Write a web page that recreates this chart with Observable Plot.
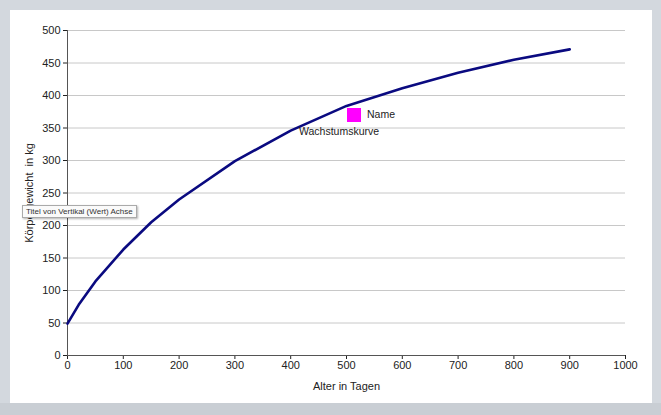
<!DOCTYPE html>
<html><head><meta charset="utf-8">
<script src="https://cdn.jsdelivr.net/npm/d3@7"></script>
<script src="https://cdn.jsdelivr.net/npm/@observablehq/plot@0.6"></script>
<style>
html,body{margin:0;padding:0;}
body{width:661px;height:415px;background:#d3d8de;position:relative;overflow:hidden;font-family:"Liberation Sans",Arial,sans-serif;}
#panel{position:absolute;left:10px;top:10px;width:642px;height:393px;background:#fff;}
#bottom{position:absolute;left:0;top:403px;width:661px;height:12px;background:#c9ced4;}
.lab{position:absolute;font-size:10.5px;color:#222;white-space:nowrap;}
#tip{position:absolute;left:22px;top:205px;font-size:8px;color:#333;background:#fafafa;border:1px solid #aaa;padding:1px 3px;box-shadow:1px 1px 2px rgba(0,0,0,0.3);white-space:nowrap;}
#sw{position:absolute;left:347px;top:108px;width:14px;height:14px;background:#ff00ff;}
</style></head>
<body>
<div id="bottom"></div>
<div id="panel"></div>
<div id="sw"></div>
<div class="lab" style="left:367px;top:108px;">Name</div>
<div class="lab" style="left:299px;top:125px;">Wachstumskurve</div>
<div id="tip">Titel von Vertikal (Wert) Achse</div>
<script>
const ages = [0, 20, 50, 100, 150, 200, 300, 400, 500, 600, 700, 800, 900];
const weights = [49, 78, 114, 163, 205, 240, 299, 346, 384, 411, 435, 455, 471];
const xTicks = [0,100,200,300,400,500,600,700,800,900,1000];
const yTicks = [0,50,100,150,200,250,300,350,400,450,500];
const xLabel = "Alter in Tagen";
const yLabel = "Körpergewicht  in kg";

const data = ages.map((a,i)=>({age:a, w:weights[i]}));

const chart = Plot.plot({
  width: 642, height: 393,
  marginLeft: 57, marginRight: 27, marginTop: 20, marginBottom: 48,
  style: {fontFamily: '"Liberation Sans", Arial, sans-serif', fontSize: "11px", color: "#222", background: "transparent", overflow: "visible"},
  x: {domain: [0,1000], ticks: xTicks, tickFormat: d => String(d), tickSize: 4, tickPadding: 2, label: xLabel, labelAnchor: "center", labelArrow: "none", labelOffset: 34},
  y: {domain: [0,500], ticks: yTicks, tickFormat: d => String(d), tickSize: 4, tickPadding: 3, label: yLabel, labelAnchor: "center", labelArrow: "none", labelOffset: 42},
  marks: [
    Plot.gridY(yTicks, {stroke: "#c8c8c8", strokeOpacity: 1, strokeWidth: 1}),
    Plot.ruleY([0], {stroke: "#555"}),
    Plot.ruleX([0], {stroke: "#555"}),
    Plot.line(data, {x: "age", y: "w", stroke: "#0a0a80", strokeWidth: 2.6, curve: "linear"})
  ]
});
document.getElementById("panel").appendChild(chart);
</script>
</body></html>
